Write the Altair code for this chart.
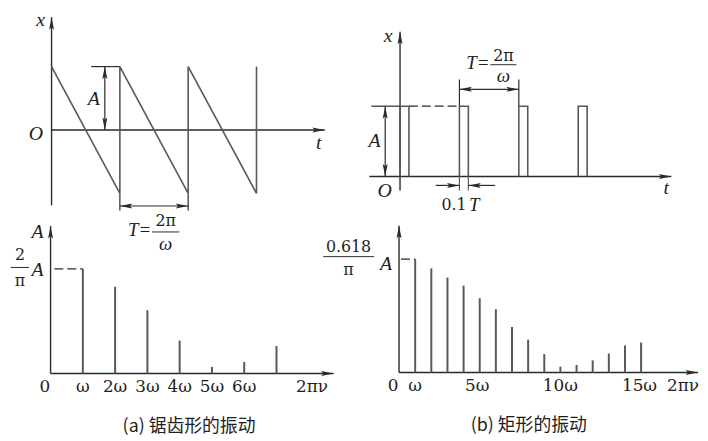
import altair as alt
import pandas as pd

# ---------------- values ----------------
# (a) sawtooth waveform corner points: time in periods T, displacement in A
saw_t = [0, 1, 1, 2, 2, 3, 3]
saw_x = [1, -1, 1, -1, 1, -1, 1]
# (b) rectangular pulses: start of each pulse (in T) and pulse width as drawn
pulse_starts = [0, 1, 2, 3]
pulse_width = 0.15
# spectra: harmonic number (multiples of omega) and amplitude (in A)
saw_harmonics = [1, 2, 3, 4, 5, 6, 7]
saw_amps = [0.637, 0.528, 0.385, 0.200, 0.040, 0.070, 0.167]
rect_harmonics = list(range(1, 16))
rect_amps = [0.197, 0.181, 0.165, 0.151, 0.129, 0.110, 0.079, 0.057,
             0.032, 0.010, 0.013, 0.021, 0.033, 0.047, 0.052]
saw_tick_labels = ["0", "ω", "2ω", "3ω", "4ω", "5ω", "6ω", "2πν"]
saw_tick_pos = [-0.18, 1, 2, 3, 4, 5, 6, 8.1]
rect_tick_labels = ["0", "ω", "5ω", "10ω", "15ω", "2πν"]
rect_tick_pos = [-0.37, 1, 4.85, 10.0, 14.9, 17.6]
captions = ["(a) 锯齿形的振动", "(b) 矩形的振动"]

AX = "#2a2a2a"
LN = "#585858"
TXT = "#1e1e1e"
ARROW = "M0,0L0.42,2.1L0,1.7L-0.42,2.1Z"
SERIF = "Liberation Serif"
NUM = "DejaVu Serif"
CJK = "Noto Sans CJK SC"


def panel(box, origin, sx, sy, rules=(), dashed=(), arrows=(), italic=(),
          upright=(), cjk=(), lines=None, bars=None):
    bx0, by0, bx1, by1 = box
    ox, oy = origin
    xs = alt.Scale(domain=[(bx0 - ox) / sx, (bx1 - ox) / sx], nice=False, zero=False)
    ys = alt.Scale(domain=[(oy - by1) / sy, (oy - by0) / sy], nice=False, zero=False)
    X = alt.X("x:Q", scale=xs, axis=None)
    Y = alt.Y("y:Q", scale=ys, axis=None)
    layers = []
    if rules:
        df = pd.DataFrame(rules, columns=["x", "x2", "y", "y2", "c", "w"])
        layers.append(alt.Chart(df).mark_rule().encode(
            x=X, x2="x2:Q", y=Y, y2="y2:Q",
            color=alt.Color("c:N", scale=None),
            strokeWidth=alt.StrokeWidth("w:Q", scale=None)))
    if dashed:
        df = pd.DataFrame(dashed, columns=["x", "x2", "y", "y2"])
        layers.append(alt.Chart(df).mark_rule(color=AX, strokeWidth=1.2, strokeDash=[9, 4]).encode(
            x=X, x2="x2:Q", y=Y, y2="y2:Q"))
    if lines is not None:
        layers.append(alt.Chart(lines).mark_line(color=LN, strokeWidth=1.6).encode(
            x=X, y=Y, detail="g:N", order="i:Q"))
    if bars is not None:
        layers.append(alt.Chart(bars).mark_rule(color=LN, strokeWidth=2).encode(
            x=X, y=Y, y2="y2:Q"))
    if arrows:
        df = pd.DataFrame(arrows, columns=["x", "y", "a"])
        layers.append(alt.Chart(df).mark_point(shape=ARROW, filled=True, size=144,
                                               color=AX, opacity=1).encode(
            x=X, y=Y, angle=alt.Angle("a:Q", scale=None)))
    for items, font, style in ((italic, SERIF, "italic"), (upright, NUM, "normal"),
                               (cjk, CJK, "normal")):
        if items:
            df = pd.DataFrame(items, columns=["x", "y", "t", "s"])
            layers.append(alt.Chart(df).mark_text(font=font, fontStyle=style, color=TXT,
                                                  align="center", baseline="middle").encode(
                x=X, y=Y, text="t:N", size=alt.Size("s:Q", scale=None)))
    return alt.layer(*layers).properties(width=bx1 - bx0, height=by1 - by0)


# ---------- (a) top: sawtooth waveform ----------
saw_df = pd.DataFrame({"x": saw_t, "y": saw_x, "g": 0, "i": range(len(saw_t))})
TL = panel(
    (8, 8, 350, 220), (52, 129), 69, 64,
    rules=[(0, 0, -1.19, 1.78, AX, 1.4), (0, 4.0, 0, 0, AX, 1.4),
           (0.58, 1.0, 1, 1, AX, 1.2), (0.78, 0.78, 0, 1, AX, 1.2),
           (1, 1, -1, -1.27, AX, 1.2), (2, 2, -1, -1.27, AX, 1.2),
           (1, 2, -1.2, -1.2, AX, 1.2), (1.47, 1.87, -1.61, -1.61, AX, 1.0)],
    arrows=[(0, 1.78, 0), (4.0, 0, 90), (0.78, 1, 0), (0.78, 0, 180),
            (1, -1.2, 270), (2, -1.2, 90)],
    italic=[(-0.16, 1.734, "x", 20), (-0.23, -0.06, "O", 20),
            (3.91, -0.2, "t", 20), (0.62, 0.48, "A", 20), (1.29, -1.58, "T=", 19),
            (1.67, -1.80, "ω", 19)],
    upright=[(1.67, -1.44, "2π", 16)],
    lines=saw_df)

# ---------- (b) top: rectangular pulses ----------
prow = []
for k, s in enumerate(pulse_starts):
    for j, (px, py) in enumerate([(s, 0), (s, 1), (s + pulse_width, 1), (s + pulse_width, 0)]):
        prow.append({"x": px, "y": py, "g": k, "i": j})
pulse_df = pd.DataFrame(prow)
w = pulse_width
TR = panel(
    (350, 8, 700, 220), (404, 176), 60, 71,
    rules=[(0, 0, -0.2, 2.06, AX, 1.4), (-0.517, 4.567, 0, 0, AX, 1.4),
           (-0.483, 0, 1, 1, AX, 1.2), (-0.25, -0.25, 0, 1, AX, 1.2),
           (1, 1, 1, 1.38, AX, 1.2), (2, 2, 1, 1.38, AX, 1.2),
           (1, 2, 1.24, 1.24, AX, 1.2), (1.52, 1.96, 1.59, 1.59, AX, 1.0),
           (1, 1, 0, -0.2, LN, 1.2), (1 + w, 1 + w, 0, -0.2, LN, 1.2),
           (0.6, 1.0, -0.127, -0.127, AX, 1.2), (1 + w, 1.6, -0.127, -0.127, AX, 1.2)],
    dashed=[(w, 1.0, 1, 1)],
    arrows=[(0, 2.06, 0), (4.567, 0, 90), (-0.25, 1, 0), (-0.25, 0, 180),
            (1, 1.24, 270), (2, 1.24, 90), (1, -0.127, 90), (1 + w, -0.127, 270)],
    italic=[(-0.2, 2.0, "x", 20), (4.48, -0.17, "t", 20), (-0.26, -0.21, "O", 20),
            (-0.43, 0.51, "A", 20), (1.31, 1.61, "T=", 19), (1.74, 1.43, "ω", 19),
            (1.25, -0.41, "T", 19)],
    upright=[(1.74, 1.72, "2π", 16), (0.91, -0.41, "0.1", 16)],
    lines=pulse_df)

# ---------- (a) bottom: sawtooth spectrum ----------
saw_bars = pd.DataFrame({"x": saw_harmonics, "y": 0.0, "y2": saw_amps})
BL = panel(
    (8, 220, 350, 433), (51, 375), 32.6, 166,
    rules=[(0, 0, 0, 0.898, AX, 1.4), (0, 8.77, 0, 0, AX, 1.4),
           (-1.23, -0.67, 0.645, 0.645, AX, 1.0)],
    dashed=[(0.12, 1, saw_amps[0], saw_amps[0])],
    arrows=[(0, 0.898, 0), (8.77, 0, 90)],
    italic=[(-0.4, 0.861, "A", 20), (-0.4, 0.627, "A", 20)],
    upright=[(-0.95, 0.72, "2", 16), (-0.95, 0.565, "π", 16)]
            + [(p, -0.08, t, 17) for p, t in zip(saw_tick_pos, saw_tick_labels)],
    cjk=[(4.29, -0.325, captions[0], 18)],
    bars=saw_bars)

# ---------- (b) bottom: rectangular-pulse spectrum ----------
rect_bars = pd.DataFrame({"x": rect_harmonics, "y": 0.0, "y2": rect_amps})
BR = panel(
    (350, 220, 700, 433), (403, 374), 16.3, 581,
    rules=[(0, 0, 0, 0.255, AX, 1.4), (0, 18.53, 0, 0, AX, 1.4),
           (-4.7, -1.55, 0.2014, 0.2014, AX, 1.0)],
    dashed=[(0.12, 1, rect_amps[0], rect_amps[0])],
    arrows=[(0, 0.255, 0), (18.53, 0, 90)],
    italic=[(-0.8, 0.189, "A", 20)],
    upright=[(-3.13, 0.2185, "0.618", 16), (-3.13, 0.178, "π", 16)]
            + [(p, -0.024, t, 17) for p, t in zip(rect_tick_pos, rect_tick_labels)],
    cjk=[(8.04, -0.093, captions[1], 18)],
    bars=rect_bars)

chart = alt.concat(TL, TR, BL, BR, columns=2, spacing=0, bounds="flush").properties(
    padding=0, background="white").configure_view(stroke=None)

chart.save("out.html", embed_options={"renderer": "svg", "actions": False})
